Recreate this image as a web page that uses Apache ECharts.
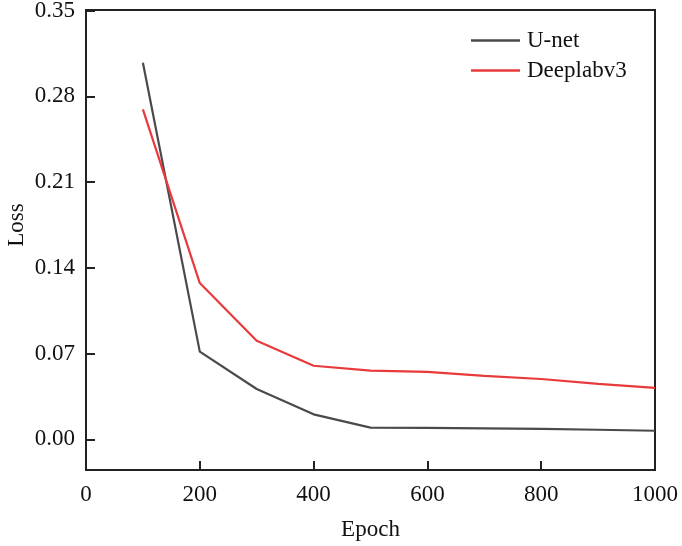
<!DOCTYPE html>
<html><head><meta charset="utf-8">
<script src="https://cdn.jsdelivr.net/npm/echarts@6/dist/echarts.min.js"></script>
<style>html,body{margin:0;padding:0;background:#fff}#c{width:682px;height:546px}</style>
</head><body><div id="c"></div>
<script>
const epochs = [100, 200, 300, 400, 500, 600, 700, 800, 900, 1000];
const unet = [0.307, 0.0715, 0.041, 0.0204, 0.0095, 0.0093, 0.0090, 0.0085, 0.0078, 0.0070];
const deeplab = [0.269, 0.1274, 0.0803, 0.060, 0.056, 0.0550, 0.0517, 0.0492, 0.0452, 0.0419];
const seriesNames = ['U-net', 'Deeplabv3'];
const yTicks = [0, 0.07, 0.14, 0.21, 0.28, 0.35];

const FONT = "'Liberation Serif', 'Times New Roman', serif";
const FS = 23;
const chart = echarts.init(document.getElementById('c'), null, {renderer: 'canvas'});
chart.setOption({
  animation: false,
  backgroundColor: '#fff',
  grid: [
    {left: 86, right: 27, top: 10, bottom: 76, show: true, borderColor: '#222', borderWidth: 2,
     backgroundColor: 'transparent', outerBoundsMode: 'none', containLabel: false},
    {left: 86, right: 27, top: 10.7, bottom: 106.7, outerBoundsMode: 'none', containLabel: false}
  ],
  legend: {
    data: seriesNames.map(n => ({name: n, icon: 'rect'})),
    orient: 'vertical', left: 466, top: 24, itemGap: 7,
    itemWidth: 49, itemHeight: 2.5,
    textStyle: {fontFamily: FONT, fontSize: FS, color: '#111', padding: [0, 0, 0, 2]}
  },
  xAxis: [
    {type: 'value', gridIndex: 0, min: 0, max: 1000, interval: 200,
     name: 'Epoch', nameLocation: 'middle', nameGap: 48,
     nameTextStyle: {fontFamily: FONT, fontSize: FS, color: '#111'},
     axisLine: {show: true, onZero: false, lineStyle: {color: '#222', width: 2}},
     axisTick: {show: true, inside: true, length: 9, lineStyle: {color: '#222', width: 2}},
     axisLabel: {fontFamily: FONT, fontSize: FS, color: '#111', margin: 13, formatter: v => String(v)},
     splitLine: {show: false}},
    {type: 'value', gridIndex: 1, min: 0, max: 1000, show: false}
  ],
  yAxis: [
    {type: 'value', gridIndex: 0, min: -0.025, max: 0.35,
     axisLine: {show: true, onZero: false, lineStyle: {color: '#222', width: 2}},
     axisTick: {show: false}, axisLabel: {show: false}, splitLine: {show: false}},
    {type: 'value', gridIndex: 1, min: 0, max: 0.35, interval: 0.07,
     name: 'Loss', nameLocation: 'middle', nameGap: 58, nameMoveOverlap: false,
     nameTextStyle: {fontFamily: FONT, fontSize: FS, color: '#111'},
     axisLine: {show: false, onZero: false},
     axisTick: {show: true, inside: true, length: 9, lineStyle: {color: '#222', width: 2}},
     axisLabel: {fontFamily: FONT, fontSize: FS, color: '#111', margin: 11,
       formatter: v => v.toFixed(2)},
     splitLine: {show: false}}
  ],
  series: [
    {name: seriesNames[0], type: 'line', xAxisIndex: 0, yAxisIndex: 0, symbol: 'none',
     data: epochs.map((e, i) => [e, unet[i]]),
     lineStyle: {color: '#4a4a4a', width: 2.2}, itemStyle: {color: '#4a4a4a'}},
    {name: seriesNames[1], type: 'line', xAxisIndex: 0, yAxisIndex: 0, symbol: 'none',
     data: epochs.map((e, i) => [e, deeplab[i]]),
     lineStyle: {color: '#e8393b', width: 2.2}, itemStyle: {color: '#e8393b'}}
  ]
});
</script></body></html>
